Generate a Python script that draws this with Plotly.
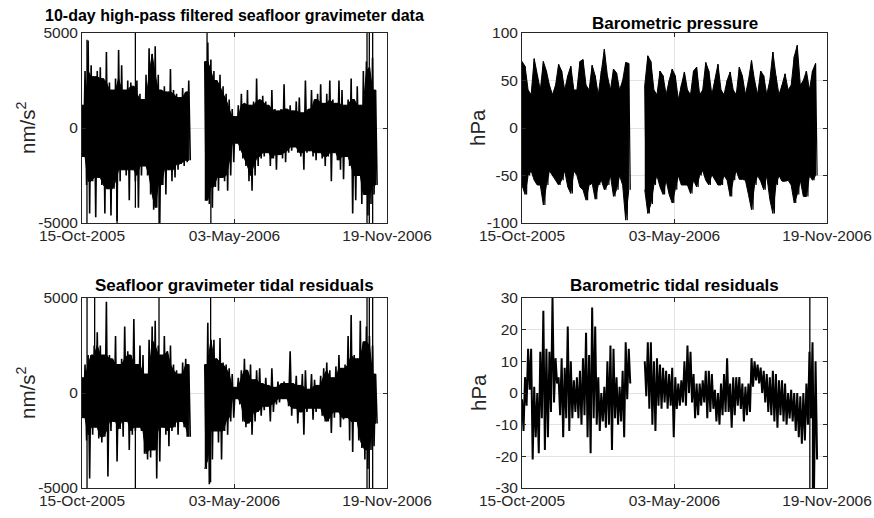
import pandas as pd
import plotly.graph_objects as go

START = pd.Timestamp("2005-10-15")
END = pd.Timestamp("2006-11-19")

# Sample days (days since 15-Oct-2005) of the envelope readings, before and after the data gap
days_a = [0, 4, 8, 12, 16, 20, 24, 28, 32, 36, 40, 44, 48, 52, 56, 60, 64, 68, 72, 76,
          80, 84, 88, 92, 96, 100, 104, 108, 112, 116, 120, 124, 128, 132, 136, 140]
days_b = [161, 165, 169, 173, 177, 181, 185, 189, 193, 197, 201, 205, 209, 213, 217, 221,
          225, 229, 233, 237, 241, 245, 249, 253, 257, 261, 265, 269, 273, 277, 281, 285,
          289, 293, 297, 301, 305, 309, 313, 317, 321, 325, 329, 333, 337, 341, 345, 349,
          353, 357, 361, 365, 369, 373, 377, 381, 385]

tick_dates = ["2005-10-15", "2006-05-03", "2006-11-19"]
tick_labels = ["15-Oct-2005", "03-May-2006", "19-Nov-2006"]

# ---- Panel 1: 10-day high-pass filtered seafloor gravimeter data (nm/s^2), max / min readings
grav_hp_upper_a = [1200, 3000, 4600, 3300, 2700, 3000, 3200, 2600, 4000, 2400, 2000, 2600,
                   4100, 3300, 2000, 2500, 2400, 2200, 2500, 1800, 1500, 2800, 4200, 3900,
                   4300, 2800, 2000, 2200, 1900, 3100, 2000, 1800, 1600, 2100, 1900, 2500]
grav_hp_lower_a = [-1500, -3000, -4500, -2800, -4700, -2600, -3000, -4500, -3200, -4600, -3200, -4900,
                   -2800, -2200, -2500, -3800, -2200, -2800, -4200, -2500, -2000, -2500, -3500, -4300,
                   -4200, -5000, -3000, -3500, -2200, -2800, -2600, -2200, -1900, -2000, -1800, -1700]
grav_hp_upper_b = [3500, 4500, 3600, 3000, 2500, 2800, 2200, 1800, 1500, 1000,
                   600, 1200, 1800, 1300, 2000, 1200, 1400, 2600, 1500, 1700,
                   1400, 1200, 2000, 1000, 900, 1000, 2300, 1000, 1200, 900,
                   1400, 1600, 800, 2500, 1000, 2000, 1500, 1800, 2300, 1300,
                   1800, 2500, 1500, 1300, 2500, 2000, 1200, 1500, 2600, 1500,
                   2200, 1200, 3000, 3500, 3200, 3700, 2000]
grav_hp_lower_b = [-3800, -4000, -4200, -3100, -3300, -2600, -2800, -3300, -2500, -1800,
                   -800, -1200, -1600, -2000, -2800, -3300, -2500, -2000, -1600, -1500,
                   -1300, -2000, -1600, -2200, -1400, -1600, -1800, -1300, -1200, -1000,
                   -1300, -1500, -2200, -1300, -1200, -1500, -1700, -1300, -1600, -2000,
                   -1500, -2800, -1300, -1700, -2200, -2700, -1500, -2000, -4500, -3800,
                   -2500, -4000, -3500, -4600, -4000, -3500, -3000]
grav_hp_spike_days = [6.5, 46, 70, 101, 164, 169, 373.8, 376.8, 381.2]
grav_hp_spike_lo = [-6000, -6000, -4200, -6000, -3000, -6000, -6000, -6000, -6000]
grav_hp_spike_hi = [4650, 2000, 6000, 2000, 6000, 3000, 6000, 6000, 6000]

# ---- Panel 2: Barometric pressure (hPa)
baro_upper_a = [70, 65, 40, 35, 73, 55, 40, 70, 60, 45, 35, 45, 67, 60, 40, 55, 65, 40,
                40, 70, 72, 45, 40, 66, 55, 35, 60, 83, 55, 40, 62, 58, 40, 50, 69, 68]
baro_lower_a = [-60, -70, -50, -45, -55, -60, -60, -81, -60, -45, -50, -55, -60, -55, -45, -62, -69, -45,
                -50, -62, -65, -76, -60, -58, -75, -60, -55, -65, -60, -50, -72, -65, -50, -60, -97, -65]
baro_upper_b = [45, 76, 70, 40, 35, 60, 55, 35, 50, 62,
                55, 30, 45, 59, 40, 35, 60, 64, 35, 40,
                69, 60, 35, 50, 67, 40, 35, 50, 59, 40,
                35, 64, 55, 35, 50, 71, 50, 35, 60, 55,
                35, 50, 80, 55, 35, 45, 57, 40, 45, 75,
                87, 45, 50, 60, 40, 60, 68]
baro_lower_b = [-65, -90, -80, -60, -50, -62, -70, -55, -70, -79,
                -65, -50, -60, -60, -60, -69, -55, -62, -50, -45,
                -55, -60, -49, -55, -60, -60, -50, -55, -72, -55,
                -45, -54, -54, -55, -70, -86, -60, -50, -56, -65,
                -50, -75, -90, -60, -50, -56, -56, -55, -60, -79,
                -70, -55, -72, -72, -50, -55, -50]

# ---- Panel 3: Seafloor gravimeter tidal residuals (nm/s^2)
grav_res_upper_a = [800, 1500, 2000, 2000, 2500, 3200, 2500, 2000, 4800, 2000, 1800, 3000,
                    1500, 1800, 3500, 2200, 2000, 3900, 1500, 2500, 2000, 1000, 2800, 3500,
                    3800, 2500, 2000, 3000, 2200, 2500, 1500, 1200, 1000, 1600, 1800, 1500]
grav_res_lower_a = [-1300, -2500, -4500, -2200, -1800, -2400, -2600, -2300, -4400, -2000, -1500, -3600,
                    -1900, -2300, -1500, -3000, -2200, -2000, -1800, -2000, -3200, -3500, -3400, -3000,
                    -4500, -3600, -1800, -2200, -2800, -2000, -1800, -2200, -1500, -1800, -2300, -2300]
grav_res_upper_b = [1500, 3700, 2800, 2800, 1800, 2900, 1600, 1500, 1300, 1000,
                    300, 800, 1200, 1800, 1200, 1500, 700, 1200, 1300, 500,
                    800, 400, 1300, 300, 600, 500, 600, 500, 2200, 500,
                    900, 400, 1000, 1200, 200, 1000, 700, 400, 900, 1300,
                    1600, 1200, 800, 1400, 2000, 1300, 1500, 3000, 4100, 2000,
                    1800, 3800, 2700, 3500, 3000, 2500, 1000]
grav_res_lower_b = [-4000, -4800, -3500, -2000, -2600, -3500, -2000, -2200, -1500, -1300,
                    -300, -600, -1500, -1800, -1600, -2200, -1500, -1000, -1200, -900,
                    -700, -1500, -1000, -600, -500, -300, -300, -700, -1200, -800,
                    -1600, -1000, -2200, -1000, -800, -1400, -1000, -800, -1200, -1500,
                    -1500, -2100, -1300, -1000, -1800, -1400, -1300, -2500, -3100, -1500,
                    -2500, -2900, -3500, -4000, -3000, -2800, -1600]
grav_res_spike_days = [6.6, 16.6, 70, 101, 168.7, 373.8, 376.8, 381.2]
grav_res_spike_lo = [-6000, -1500, -6000, -2000, -4700, -6000, -6000, -6000]
grav_res_spike_hi = [6000, 6000, 1500, 6000, 6000, 6000, 6000, 6000]

# ---- Panel 4: Barometric tidal residuals (hPa)
baro_res_upper_a = [-2, 5, 14, 14, 2, 0, 13, 26, 14, 13, 30, 11, 5, 11, 8, 21, 10, 4,
                    5, 7, 11, 19, 12, 27, 21, 5, 0, 2, 10, 15, 14, 5, 2, 7, 16, 14]
baro_res_lower_a = [-12, -4, 1, -21, -14, -19, -8, -18, -14, -6, -3, 3, -7, -14, -8, -12, -8, -6,
                    -8, -10, -7, -14, -19, -8, -10, -12, -9, -11, -10, -18, -8, -10, -9, -14, -2, 3]
baro_res_upper_b = [10, 16, 16, 10, 11, 9, 8, 7, 6, 8,
                    5, 3, 4, 10, 15, 13, 6, 3, 3, 4,
                    7, 7, 6, 1, 0, 3, 6, 11, 3, 5,
                    5, 5, 3, 2, 3, 11, 10, 9, 8, 7,
                    6, 5, 7, 6, 4, 4, 3, 0, 1, 0,
                    0, -1, 0, 3, 13, 16, 10]
baro_res_lower_b = [-1, -5, -10, -12, -4, -5, -3, -5, -4, -14,
                    -5, -4, -3, -4, 0, -3, -8, -7, -4, -3,
                    -8, -6, -5, -9, -10, -7, -6, -6, -11, -7,
                    -4, -5, -9, -7, -6, 2, 4, 3, 0, -3,
                    -6, -7, -9, -11, -7, -9, -10, -8, -9, -12,
                    -14, -16, -15, -10, -8, -30, -21]
baro_res_spike_days = [377.5, 381]
baro_res_spike_lo = [-31, -31]
baro_res_spike_hi = [31, 10]


def to_date(d):
    return (START + pd.Timedelta(days=d)).strftime("%Y-%m-%d %H:%M:%S")


def core(up, lo):
    """Solid core of the trace: the envelope that neighbouring readings all reach."""
    n = len(up)
    cu = [min(up[max(0, i - 1):min(n, i + 2)]) for i in range(n)]
    cl = [max(lo[max(0, i - 1):min(n, i + 2)]) for i in range(n)]
    return cu, cl


def envelope(up_a, lo_a, up_b, lo_b, shrink=False):
    """Closed polygon: max readings forward, min readings backward."""
    xs, ys = [], []
    for d, up, lo in ((days_a, up_a, lo_a), (days_b, up_b, lo_b)):
        if shrink:
            up, lo = core(up, lo)
        dt = [to_date(v) for v in d]
        xs += dt + dt[::-1] + [None]
        ys += list(up) + list(lo)[::-1] + [None]
    return xs, ys


def zigzag(up_a, lo_a, up_b, lo_b):
    """Oscillating trace: each sample swings from its max reading to its min reading."""
    xs, ys = [], []
    for d, up, lo in ((days_a, up_a, lo_a), (days_b, up_b, lo_b)):
        for v, u, l in zip(d, up, lo):
            xs += [to_date(v), to_date(v + 2)]
            ys += [u, l]
        xs.append(None)
        ys.append(None)
    return xs, ys


def spikes(days, lo, hi):
    xs, ys = [], []
    for d, l, h in zip(days, lo, hi):
        xs += [to_date(d), to_date(d), None]
        ys += [l, h, None]
    return xs, ys


W, H = 874, 518
INK = "#262626"
FONT = "Liberation Sans, Arial, Helvetica, sans-serif"


def px_x(X):
    return X / W


def px_y(Y):
    return (H - Y) / H


# plot-area pixel boxes: (left, right, top, bottom)
boxes = [(82, 387, 33, 223), (522, 827, 33, 223), (82, 387, 298, 488), (522, 827, 298, 488)]

panels = [
    dict(fill="core", lw=1.6, data=(grav_hp_upper_a, grav_hp_lower_a, grav_hp_upper_b, grav_hp_lower_b),
         spk=spikes(grav_hp_spike_days, grav_hp_spike_lo, grav_hp_spike_hi),
         yr=[-5000, 5000], yt=[-5000, 0, 5000],
         title="10-day high-pass filtered seafloor gravimeter data", tsize=16, ty=15,
         ylab="nm/s<sup>2</sup>", ylx=26),
    dict(fill="full", lw=1.2, data=(baro_upper_a, baro_lower_a, baro_upper_b, baro_lower_b),
         spk=None,
         yr=[-100, 100], yt=[-100, -50, 0, 50, 100],
         title="Barometric pressure", tsize=17, ty=23, ylab="hPa", ylx=478),
    dict(fill="core", lw=1.6, data=(grav_res_upper_a, grav_res_lower_a, grav_res_upper_b, grav_res_lower_b),
         spk=spikes(grav_res_spike_days, grav_res_spike_lo, grav_res_spike_hi),
         yr=[-5000, 5000], yt=[-5000, 0, 5000],
         title="Seafloor gravimeter tidal residuals", tsize=17, ty=285,
         ylab="nm/s<sup>2</sup>", ylx=26),
    dict(fill=None, lw=2.0, data=(baro_res_upper_a, baro_res_lower_a, baro_res_upper_b, baro_res_lower_b),
         spk=spikes(baro_res_spike_days, baro_res_spike_lo, baro_res_spike_hi),
         yr=[-30, 30], yt=[-30, -20, -10, 0, 10, 20, 30],
         title="Barometric tidal residuals", tsize=17, ty=285, ylab="hPa", ylx=478),
]

fig = go.Figure()
annotations = []
layout = {}
for i, (p, (l, r, t, b)) in enumerate(zip(panels, boxes)):
    n = "" if i == 0 else str(i + 1)
    xr, yr = "x" + n, "y" + n
    if p["fill"] is not None:
        ex, ey = envelope(*p["data"], shrink=(p["fill"] == "core"))
        fig.add_trace(go.Scatter(x=ex, y=ey, xaxis=xr, yaxis=yr, mode="lines",
                                 fill="toself", fillcolor="black",
                                 line=dict(color="black", width=1), hoverinfo="skip",
                                 showlegend=False))
    zx, zy = zigzag(*p["data"])
    fig.add_trace(go.Scatter(x=zx, y=zy, xaxis=xr, yaxis=yr, mode="lines",
                             line=dict(color="black", width=p["lw"]), hoverinfo="skip",
                             showlegend=False))
    if p["spk"] is not None:
        sx, sy = p["spk"]
        fig.add_trace(go.Scatter(x=sx, y=sy, xaxis=xr, yaxis=yr, mode="lines",
                                 line=dict(color="black", width=1.3), hoverinfo="skip",
                                 showlegend=False))
    layout["xaxis" + n] = dict(
        domain=[px_x(l), px_x(r)], anchor=yr, type="date", automargin=False,
        range=[START.strftime("%Y-%m-%d"), END.strftime("%Y-%m-%d")],
        tickmode="array", tickvals=tick_dates, ticktext=tick_labels,
        ticks="inside", ticklen=4, tickcolor=INK, tickwidth=1,
        showline=True, linecolor=INK, linewidth=1, mirror="ticks",
        showgrid=True, gridcolor="#e3e3e3", gridwidth=1, zeroline=False,
        ticklabelstandoff=-2,
        tickfont=dict(family=FONT, size=15.5, color=INK), fixedrange=True)
    layout["yaxis" + n] = dict(
        domain=[px_y(b), px_y(t)], anchor=xr, range=p["yr"], automargin=False,
        tickmode="array", tickvals=p["yt"], ticktext=[str(v) for v in p["yt"]],
        ticks="inside", ticklen=4, tickcolor=INK, tickwidth=1,
        showline=True, linecolor=INK, linewidth=1, mirror="ticks",
        showgrid=True, gridcolor="#e3e3e3", gridwidth=1, zeroline=False,
        tickfont=dict(family=FONT, size=15.5, color=INK), fixedrange=True)
    annotations.append(dict(text="<b>" + p["title"] + "</b>", xref="paper", yref="paper",
                            x=px_x((l + r) / 2), y=px_y(p["ty"]), xanchor="center",
                            yanchor="middle", showarrow=False,
                            font=dict(family=FONT, size=p["tsize"], color="black")))
    annotations.append(dict(text=p["ylab"], xref="paper", yref="paper",
                            x=px_x(p["ylx"]), y=px_y((t + b) / 2), xanchor="center",
                            yanchor="middle", textangle=-90, showarrow=False,
                            font=dict(family=FONT, size=20.5, color=INK)))

fig.update_layout(width=W, height=H, margin=dict(l=0, r=0, t=0, b=0, autoexpand=False),
                  paper_bgcolor="white", plot_bgcolor="white",
                  annotations=annotations, showlegend=False, **layout)

# The page's default 8 px body margin would push the figure out of the window.
fig.write_html("out.html", config={"displayModeBar": False},
               post_script="document.body.style.margin='0';document.body.style.overflow='hidden';")
